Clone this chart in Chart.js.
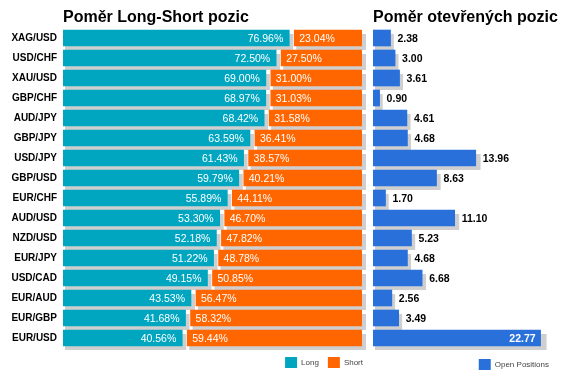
<!DOCTYPE html>
<html>
<head>
<meta charset="utf-8">
<script src="https://cdn.jsdelivr.net/npm/chart.js@4.4.1/dist/chart.umd.min.js"></script>
<style>
  html, body { margin: 0; padding: 0; background: #ffffff; }
  #wrap { position: relative; width: 571px; height: 380px; }
  #wrap canvas { position: absolute; left: 0; top: 0; }
</style>
</head>
<body>
<div id="wrap">
  <canvas id="ls" width="571" height="380"></canvas>
  <canvas id="op" width="571" height="380"></canvas>
</div>
<script>
// ---- data ----
const pairs = ["XAG/USD","USD/CHF","XAU/USD","GBP/CHF","AUD/JPY","GBP/JPY","USD/JPY","GBP/USD",
               "EUR/CHF","AUD/USD","NZD/USD","EUR/JPY","USD/CAD","EUR/AUD","EUR/GBP","EUR/USD"];
const longPct  = [76.96,72.50,69.00,68.97,68.42,63.59,61.43,59.79,55.89,53.30,52.18,51.22,49.15,43.53,41.68,40.56];
const shortPct = [23.04,27.50,31.00,31.03,31.58,36.41,38.57,40.21,44.11,46.70,47.82,48.78,50.85,56.47,58.32,59.44];
const openPos  = [2.38,3.00,3.61,0.90,4.61,4.68,13.96,8.63,1.70,11.10,5.23,4.68,6.68,2.56,3.49,22.77];
const titleLS = "Poměr Long-Short pozic";
const titleOP = "Poměr otevřených pozic";
const seriesNames = ["Long", "Short", "Open Positions"];

// ---- style ----
const FONT = '"Liberation Sans", Arial, sans-serif';
const C_LONG = '#00a6c0', C_SHORT = '#ff6600', C_OPEN = '#2970db', C_SHADOW = '#cfcfcf';
const GAP = 1.7; // visual gap between long and short segment (axis units)

// floating ranges built from the data
const longRanges  = longPct.map(v => [0, v]);
const shortRanges = shortPct.map((v, i) => [longPct[i] + GAP, longPct[i] + GAP + v]);

// shadow behind every bar
const shadowPlugin = {
  id: 'shadow',
  beforeDatasetsDraw(chart, args, opts) {
    const ctx = chart.ctx;
    ctx.save();
    ctx.fillStyle = C_SHADOW;
    chart.data.datasets.forEach((ds, di) => {
      chart.getDatasetMeta(di).data.forEach(el => {
        const p = el.getProps(['x', 'y', 'base', 'height'], true);
        const x0 = Math.min(p.base, p.x), x1 = Math.max(p.base, p.x);
        const w = x1 - x0;
        const extra = opts.scaled ? 3 + 0.018 * w : 4;
        ctx.fillRect(x0 + 2, p.y - p.height / 2 + 4, (x1 + extra) - (x0 + 2), p.height);
      });
    });
    ctx.restore();
  }
};

// title at the left edge of the plot area
const titlePlugin = {
  id: 'leftTitle',
  afterDraw(chart, args, opts) {
    const ctx = chart.ctx;
    ctx.save();
    ctx.font = 'bold 16px ' + FONT;
    ctx.fillStyle = '#000';
    ctx.textBaseline = 'alphabetic';
    ctx.textAlign = 'left';
    ctx.fillText(opts.text, chart.chartArea.left, 22);
    ctx.restore();
  }
};

// legend drawn from the datasets, right aligned
const legendPlugin = {
  id: 'miniLegend',
  afterDraw(chart, args, opts) {
    const ctx = chart.ctx;
    ctx.save();
    ctx.font = '8px ' + FONT;
    const items = chart.data.datasets.map(d => ({ label: d.label, color: d.backgroundColor }));
    const box = 12, gapT = 4, gapI = 9;
    let total = 0;
    items.forEach((it, i) => { total += box + gapT + ctx.measureText(it.label).width + (i ? gapI : 0); });
    let x = chart.chartArea.right + opts.offset - total;
    const y = opts.y;
    items.forEach(it => {
      ctx.fillStyle = it.color;
      ctx.fillRect(x, y, box, 11);
      x += box + gapT;
      ctx.fillStyle = '#444';
      ctx.textBaseline = 'middle';
      ctx.textAlign = 'left';
      ctx.fillText(it.label, x, y + 6);
      x += ctx.measureText(it.label).width + gapI;
    });
    ctx.restore();
  }
};

// value labels
const lsLabels = {
  id: 'lsLabels',
  afterDatasetsDraw(chart) {
    const ctx = chart.ctx;
    ctx.save();
    ctx.font = '10.5px ' + FONT;
    ctx.fillStyle = '#fff';
    ctx.textBaseline = 'middle';
    chart.getDatasetMeta(0).data.forEach((el, i) => {
      ctx.textAlign = 'right';
      ctx.fillText(longPct[i].toFixed(2) + '%', el.x - 6, el.y + 1);
    });
    chart.getDatasetMeta(1).data.forEach((el, i) => {
      ctx.textAlign = 'left';
      ctx.fillText(shortPct[i].toFixed(2) + '%', el.base + 5, el.y + 1);
    });
    ctx.restore();
  }
};

const opLabels = {
  id: 'opLabels',
  afterDatasetsDraw(chart) {
    const ctx = chart.ctx;
    ctx.save();
    ctx.font = 'bold 10.5px ' + FONT;
    ctx.textBaseline = 'middle';
    chart.getDatasetMeta(0).data.forEach((el, i) => {
      const t = openPos[i].toFixed(2);
      const w = ctx.measureText(t).width;
      if (el.x + 7 + w > chart.chartArea.right) {
        ctx.fillStyle = '#fff';
        ctx.textAlign = 'right';
        ctx.fillText(t, el.x - 5, el.y + 1);
      } else {
        ctx.fillStyle = '#000';
        ctx.textAlign = 'left';
        ctx.fillText(t, el.x + 7, el.y + 1);
      }
    });
    ctx.restore();
  }
};

Chart.defaults.font.family = FONT;

new Chart(document.getElementById('ls'), {
  type: 'bar',
  data: {
    labels: pairs,
    datasets: [
      { label: seriesNames[0], data: longRanges, backgroundColor: C_LONG, barThickness: 16, grouped: false, borderWidth: 0 },
      { label: seriesNames[1], data: shortRanges, backgroundColor: C_SHORT, barThickness: 16, grouped: false, borderWidth: 0 }
    ]
  },
  options: {
    indexAxis: 'y',
    responsive: false,
    animation: false,
    devicePixelRatio: 1,
    layout: { padding: { left: 0, right: 209, top: 28, bottom: 32 } },
    scales: {
      x: { display: false, min: 0, max: 100 + GAP },
      y: {
        grid: { display: false, drawTicks: false },
        border: { display: false },
        ticks: { color: '#000', font: { size: 10, weight: 'bold' }, padding: 6 },
        afterFit(s) { s.width = 63; }
      }
    },
    plugins: {
      legend: { display: false },
      tooltip: { enabled: false },
      leftTitle: { text: titleLS },
      miniLegend: { offset: 1, y: 357 },
      shadow: { scaled: false }
    }
  },
  plugins: [shadowPlugin, titlePlugin, legendPlugin, lsLabels]
});

new Chart(document.getElementById('op'), {
  type: 'bar',
  data: {
    labels: pairs,
    datasets: [
      { label: seriesNames[2], data: openPos, backgroundColor: C_OPEN, barThickness: 16, borderWidth: 0 }
    ]
  },
  options: {
    indexAxis: 'y',
    responsive: false,
    animation: false,
    devicePixelRatio: 1,
    layout: { padding: { left: 373, right: 14, top: 28, bottom: 32 } },
    scales: {
      x: { display: false, min: 0, max: 25 },
      y: { display: false }
    },
    plugins: {
      legend: { display: false },
      tooltip: { enabled: false },
      leftTitle: { text: titleOP },
      miniLegend: { offset: -8, y: 359 },
      shadow: { scaled: true }
    }
  },
  plugins: [shadowPlugin, titlePlugin, legendPlugin, opLabels]
});
</script>
</body>
</html>
